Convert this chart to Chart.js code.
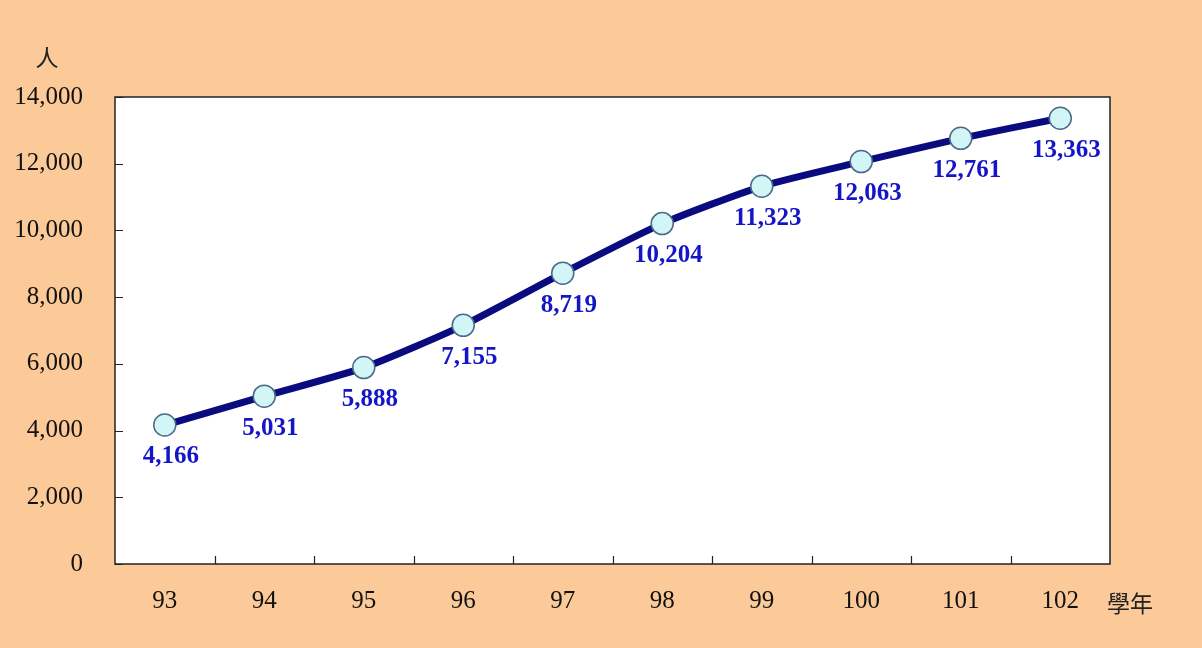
<!DOCTYPE html>
<html>
<head>
<meta charset="utf-8">
<script src="https://cdn.jsdelivr.net/npm/chart.js@4.4.1/dist/chart.umd.min.js"></script>
<style>
  html, body { margin: 0; padding: 0; background: #fcca98; }
  #wrap { width: 1202px; height: 648px; position: relative; }
</style>
</head>
<body>
<div id="wrap"><canvas id="studentChart"></canvas></div>
<script>
const years = ['93', '94', '95', '96', '97', '98', '99', '100', '101', '102'];
const students = [4166, 5031, 5888, 7155, 8719, 10204, 11323, 12063, 12761, 13363];
const yTicks = [0, 2000, 4000, 6000, 8000, 10000, 12000, 14000];

const serif = '"Liberation Serif", "DejaVu Serif", serif';
const cjk = '"Noto Sans CJK TC", "Noto Sans CJK SC", sans-serif';

// frame, inward ticks, point labels and axis titles
const decorPlugin = {
    id: 'decor',
    beforeDraw(chart) {
        const { ctx, chartArea: a } = chart;
        ctx.save();
        ctx.fillStyle = '#ffffff';
        ctx.fillRect(a.left, a.top, a.right - a.left, a.bottom - a.top);
        ctx.restore();
    },
    afterDatasetsDraw(chart) {
        const { ctx, chartArea: a, scales } = chart;
        ctx.save();
        ctx.strokeStyle = '#222222';
        ctx.lineWidth = 1.2;
        ctx.beginPath();
        yTicks.forEach(v => {
            const y = Math.round(scales.y.getPixelForValue(v)) + 0.5;
            ctx.moveTo(a.left, y);
            ctx.lineTo(a.left + 8, y);
        });
        const step = (a.right - a.left) / years.length;
        for (let i = 1; i < years.length; i++) {
            const x = Math.round(a.left + step * i) + 0.5;
            ctx.moveTo(x, a.bottom);
            ctx.lineTo(x, a.bottom - 8);
        }
        ctx.stroke();
        ctx.lineWidth = 1.5;
        ctx.strokeRect(a.left, a.top, a.right - a.left, a.bottom - a.top);

        // value labels under the points
        ctx.fillStyle = '#1515c8';
        ctx.font = 'bold 25px ' + serif;
        ctx.textAlign = 'center';
        ctx.textBaseline = 'middle';
        const meta = chart.getDatasetMeta(0);
        meta.data.forEach((pt, i) => {
            ctx.fillText(students[i].toLocaleString('en-US'), pt.x + 6, pt.y + 32);
        });

        // axis titles
        ctx.fillStyle = '#222222';
        ctx.font = '23px ' + cjk;
        ctx.fillText('人', 47, 57);
        ctx.fillText('學年', 1130, 603);
        ctx.restore();
    }
};

const ctx = document.getElementById('studentChart').getContext('2d');
new Chart(ctx, {
    type: 'line',
    data: {
        labels: years,
        datasets: [{
            data: students,
            borderColor: '#0b0b80',
            borderWidth: 7,
            tension: 0.2,
            pointRadius: 11,
            pointBackgroundColor: '#d2f5f6',
            pointBorderColor: '#4b6a8a',
            pointBorderWidth: 1.5
        }]
    },
    options: {
        responsive: true,
        maintainAspectRatio: false,
        animation: false,
        layout: { padding: { top: 97, right: 92, left: 0, bottom: 0 } },
        plugins: {
            legend: { display: false },
            tooltip: { enabled: false }
        },
        scales: {
            x: {
                offset: true,
                grid: { display: false },
                border: { display: false },
                ticks: {
                    color: '#111111',
                    font: { family: serif, size: 25 },
                    padding: 14
                },
                afterFit(scale) { scale.height = 84; }
            },
            y: {
                min: 0,
                max: 14000,
                grid: { display: false },
                border: { display: false },
                afterBuildTicks(scale) {
                    scale.ticks = yTicks.map(v => ({ value: v }));
                },
                ticks: {
                    color: '#111111',
                    font: { family: serif, size: 25 },
                    padding: 24,
                    callback: v => v.toLocaleString('en-US')
                },
                afterFit(scale) { scale.width = 115; }
            }
        }
    },
    plugins: [decorPlugin]
});
</script>
</body>
</html>
